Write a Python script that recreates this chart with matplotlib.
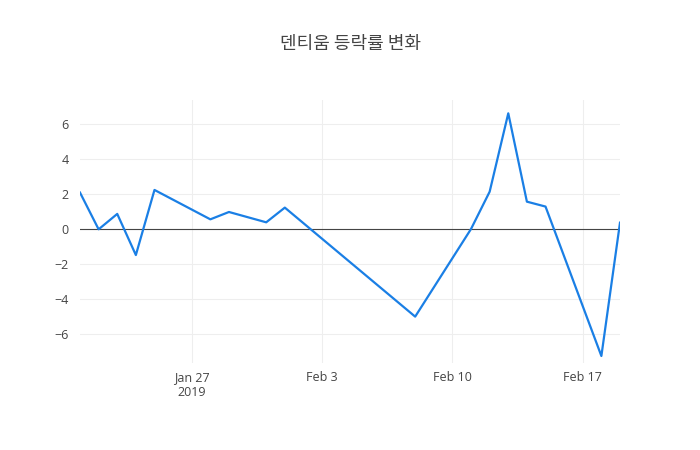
import pandas as pd
import matplotlib.pyplot as plt
import matplotlib.dates as mdates

plt.rcParams['font.family'] = ['Open Sans', 'Noto Sans CJK KR', 'DejaVu Sans']

# Daily change (%)
dates = ['2019-01-21', '2019-01-22', '2019-01-23', '2019-01-24', '2019-01-25',
         '2019-01-28', '2019-01-29', '2019-01-31', '2019-02-01', '2019-02-08',
         '2019-02-11', '2019-02-12', '2019-02-13', '2019-02-14', '2019-02-15',
         '2019-02-18', '2019-02-19']
change = [2.1, 0.0, 0.88, -1.47, 2.25,
          0.57, 0.99, 0.4, 1.24, -4.99,
          0.02, 2.15, 6.63, 1.58, 1.3,
          -7.24, 0.38]
title = '덴티움 등락률 변화'
tick_dates = ['2019-01-27', '2019-02-03', '2019-02-10', '2019-02-17']
tick_labels = ['Jan 27\n2019', 'Feb 3', 'Feb 10', 'Feb 17']

df = pd.DataFrame({'date': pd.to_datetime(dates), 'change': change})

fig = plt.figure(figsize=(7, 4.5), dpi=100)
ax = fig.add_axes([80 / 700, 87 / 450, 540 / 700, 263 / 450])

ax.plot(df['date'], df['change'], color='#1a7fe5', linewidth=1.6, zorder=3)
ax.axhline(0, color='#444444', linewidth=0.8, zorder=2)

ax.set_xlim(df['date'].min(), df['date'].max())
ax.set_ylim(-7.64, 7.39)
ax.set_yticks([-6, -4, -2, 0, 2, 4, 6])
ax.set_yticklabels(['−6', '−4', '−2', '0', '2', '4', '6'])
ax.set_xticks(pd.to_datetime(tick_dates))
ax.set_xticklabels(tick_labels)

ax.grid(True, color='#eeeeee', linewidth=0.8, zorder=0)
for s in ax.spines.values():
    s.set_visible(False)
ax.tick_params(length=0, labelsize=9, colors='#444444', pad=6)
ax.tick_params(axis='y', pad=8)

fig.text(0.5, 1 - 44 / 450, title, ha='center', va='center', fontsize=13,
         color='#444444', family=['Noto Sans CJK KR', 'DejaVu Sans'])

fig.savefig('out.png', dpi=100)
